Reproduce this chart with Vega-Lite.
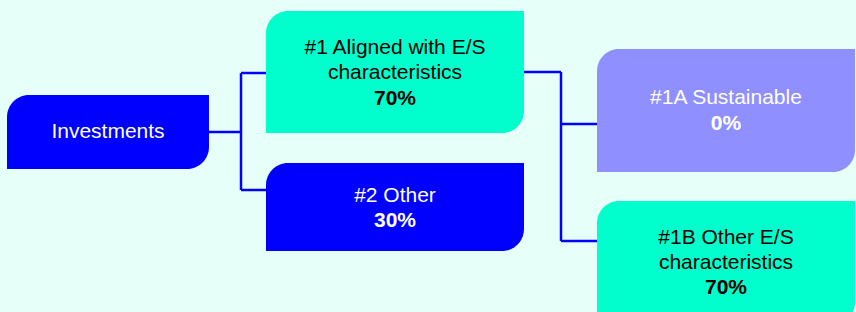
{
  "$schema": "https://vega.github.io/schema/vega-lite/v6.json",
  "width": 856,
  "height": 312,
  "padding": 0,
  "autosize": {"type": "none"},
  "background": "#E6FFF9",
  "config": {"view": {"stroke": null}, "text": {"font": "Liberation Sans"}},
  "datasets": {
    "nodes": [
      {"id": "Investments", "name": "Investments", "pct": "", "x0": 7, "x1": 209, "y0": 95, "y1": 169, "cx": 108, "ny": 132, "py": 132},
      {"id": "#1", "name": "#1 Aligned with E/S\ncharacteristics", "pct": "70%", "x0": 266, "x1": 524, "y0": 11, "y1": 133, "cx": 395, "ny": 48, "py": 99},
      {"id": "#2", "name": "#2 Other", "pct": "30%", "x0": 266, "x1": 524, "y0": 163, "y1": 251, "cx": 395, "ny": 196, "py": 221},
      {"id": "#1A", "name": "#1A Sustainable", "pct": "0%", "x0": 597, "x1": 855, "y0": 49, "y1": 172, "cx": 726, "ny": 98, "py": 124},
      {"id": "#1B", "name": "#1B Other E/S\ncharacteristics", "pct": "70%", "x0": 597, "x1": 855, "y0": 201, "y1": 324, "cx": 726, "ny": 237.5, "py": 287.5}
    ],
    "edges": [
      {"x": 209, "y": 132, "x2": 241, "y2": 132},
      {"x": 241, "y": 73, "x2": 241, "y2": 190},
      {"x": 241, "y": 73, "x2": 266, "y2": 73},
      {"x": 241, "y": 190, "x2": 266, "y2": 190},
      {"x": 524, "y": 72, "x2": 561, "y2": 72},
      {"x": 561, "y": 72, "x2": 561, "y2": 241},
      {"x": 561, "y": 124, "x2": 597, "y2": 124},
      {"x": 561, "y": 241, "x2": 597, "y2": 241}
    ]
  },
  "resolve": {"scale": {"color": "independent"}},
  "layer": [
    {
      "data": {"name": "edges"},
      "mark": {"type": "rule", "color": "#0000FF", "strokeWidth": 2.5},
      "encoding": {
        "x": {"field": "x", "type": "quantitative", "scale": {"domain": [0, 856], "nice": false, "zero": false}, "axis": null},
        "y": {"field": "y", "type": "quantitative", "scale": {"domain": [0, 312], "nice": false, "zero": false, "reverse": true}, "axis": null},
        "x2": {"field": "x2"},
        "y2": {"field": "y2"}
      }
    },
    {
      "data": {"name": "nodes"},
      "mark": {"type": "rect", "cornerRadiusTopLeft": 22, "cornerRadiusBottomRight": 22},
      "encoding": {
        "x": {"field": "x0", "type": "quantitative"},
        "x2": {"field": "x1"},
        "y": {"field": "y0", "type": "quantitative"},
        "y2": {"field": "y1"},
        "color": {"field": "id", "type": "nominal", "legend": null,
          "scale": {"domain": ["Investments", "#1", "#2", "#1A", "#1B"], "range": ["#0000FF", "#00FFCC", "#0000FF", "#8F8FFF", "#00FFCC"]}},
        "opacity": {"value": 1}
      }
    },
    {
      "data": {"name": "nodes"},
      "mark": {"type": "text", "fontSize": 21, "lineBreak": "\n", "lineHeight": 25, "align": "center", "baseline": "middle"},
      "encoding": {
        "x": {"field": "cx", "type": "quantitative"},
        "y": {"field": "ny", "type": "quantitative"},
        "text": {"field": "name"},
        "color": {"field": "id", "type": "nominal", "legend": null,
          "scale": {"domain": ["Investments", "#1", "#2", "#1A", "#1B"], "range": ["#FFFFFF", "#000000", "#FFFFFF", "#FFFFFF", "#000000"]}}
      }
    },
    {
      "data": {"name": "nodes"},
      "mark": {"type": "text", "fontSize": 21, "fontWeight": "bold", "align": "center", "baseline": "middle"},
      "encoding": {
        "x": {"field": "cx", "type": "quantitative"},
        "y": {"field": "py", "type": "quantitative"},
        "text": {"field": "pct"},
        "color": {"field": "id", "type": "nominal", "legend": null,
          "scale": {"domain": ["Investments", "#1", "#2", "#1A", "#1B"], "range": ["#FFFFFF", "#000000", "#FFFFFF", "#FFFFFF", "#000000"]}}
      }
    }
  ]
}
